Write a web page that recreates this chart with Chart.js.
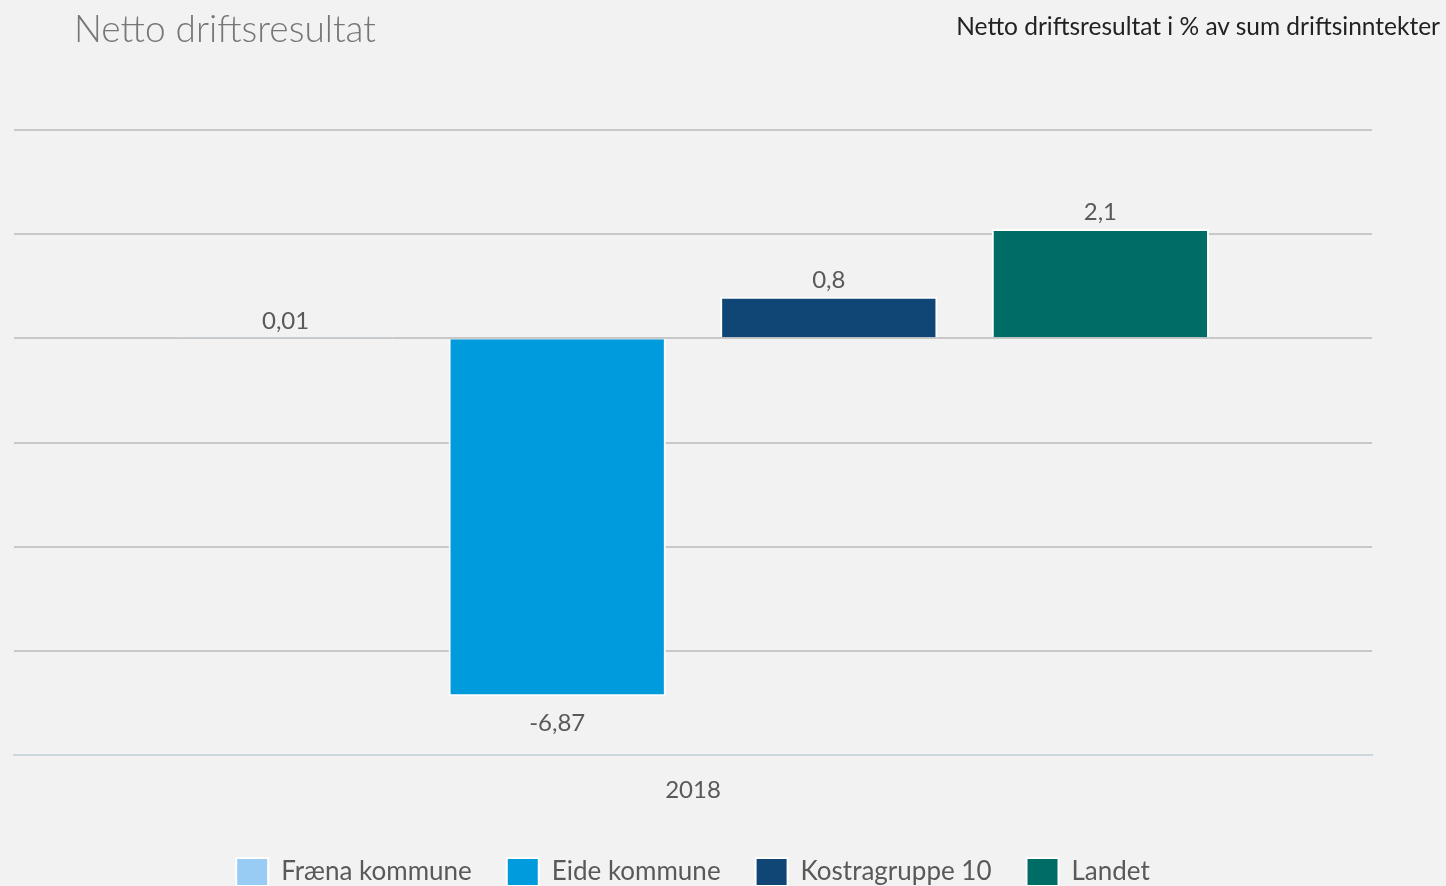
<!DOCTYPE html>
<html>
<head>
<meta charset="utf-8">
<script src="https://cdn.jsdelivr.net/npm/chart.js@4.4.1/dist/chart.umd.min.js"></script>
<style>
    html, body { margin: 0; padding: 0; background: #f2f2f2; }
    #wrap { position: relative; width: 1446px; height: 886px; overflow: hidden; }
    #title { position: absolute; left: 74px; top: 5px; font: 300 37px Lato, sans-serif; color: #767676; }
    #subtitle { position: absolute; right: 6px; top: 11px; font: 400 24.5px Lato, sans-serif; color: #222; }
    canvas { position: absolute; left: 0; top: 0; }
</style>
</head>
<body>
<div id="wrap">
    <canvas id="chart" width="1446" height="886"></canvas>
    <div id="title">Netto driftsresultat</div>
    <div id="subtitle">Netto driftsresultat i % av sum driftsinntekter</div>
</div>
<script>
const years = ['2018'];
const seriesNames = ['Fræna kommune', 'Eide kommune', 'Kostragruppe 10', 'Landet'];
const seriesValues = [0.01, -6.87, 0.8, 2.1];
const seriesColors = ['#99ccf5', '#009bdc', '#0f4675', '#006c66'];
const yMin = -8;
const yMax = 4;
const yStep = 2;

const FONT = 'Lato, sans-serif';

// value labels above / below each bar, with comma decimals
const valueLabels = {
    id: 'valueLabels',
    afterDatasetsDraw(chart) {
        const ctx = chart.ctx;
        ctx.save();
        ctx.font = '24px ' + FONT;
        ctx.fillStyle = '#595959';
        ctx.textAlign = 'center';
        ctx.textBaseline = 'alphabetic';
        chart.data.datasets.forEach((ds, i) => {
            const bar = chart.getDatasetMeta(i).data[0];
            const value = ds.data[0];
            const text = String(value).replace('.', ',');
            if (value >= 0) {
                ctx.fillText(text, bar.x, bar.y - 9);
            } else {
                ctx.fillText(text, bar.x, bar.y + 35);
            }
        });
        ctx.restore();
    }
};

const datasets = seriesNames.map((name, i) => ({
    label: name,
    data: [seriesValues[i]],
    backgroundColor: seriesColors[i],
    borderColor: '#ffffff',
    borderWidth: 2,
    categoryPercentage: 0.8,
    barPercentage: 0.8
}));

new Chart(document.getElementById('chart'), {
    type: 'bar',
    data: { labels: years, datasets: datasets },
    options: {
        responsive: false,
        animation: false,
        layout: { padding: { top: 130, left: 14, right: 74, bottom: 0 } },
        plugins: {
            legend: {
                position: 'bottom',
                maxHeight: 63,
                labels: {
                    boxWidth: 32,
                    boxHeight: 28,
                    padding: 35,
                    color: '#595959',
                    font: { family: FONT, size: 26 }
                }
            },
            tooltip: { enabled: false }
        },
        scales: {
            x: {
                grid: { display: false, drawTicks: false },
                border: { display: true, color: '#ccd6dd', width: 2 },
                ticks: { color: '#595959', padding: 21, font: { family: FONT, size: 24 } },
                afterFit(scale) { scale.height = 68; }
            },
            y: {
                min: yMin,
                max: yMax,
                ticks: { stepSize: yStep, display: false },
                grid: { color: '#c8c8c8', lineWidth: 2, drawTicks: false },
                border: { display: false }
            }
        }
    },
    plugins: [valueLabels]
});
</script>
</body>
</html>
